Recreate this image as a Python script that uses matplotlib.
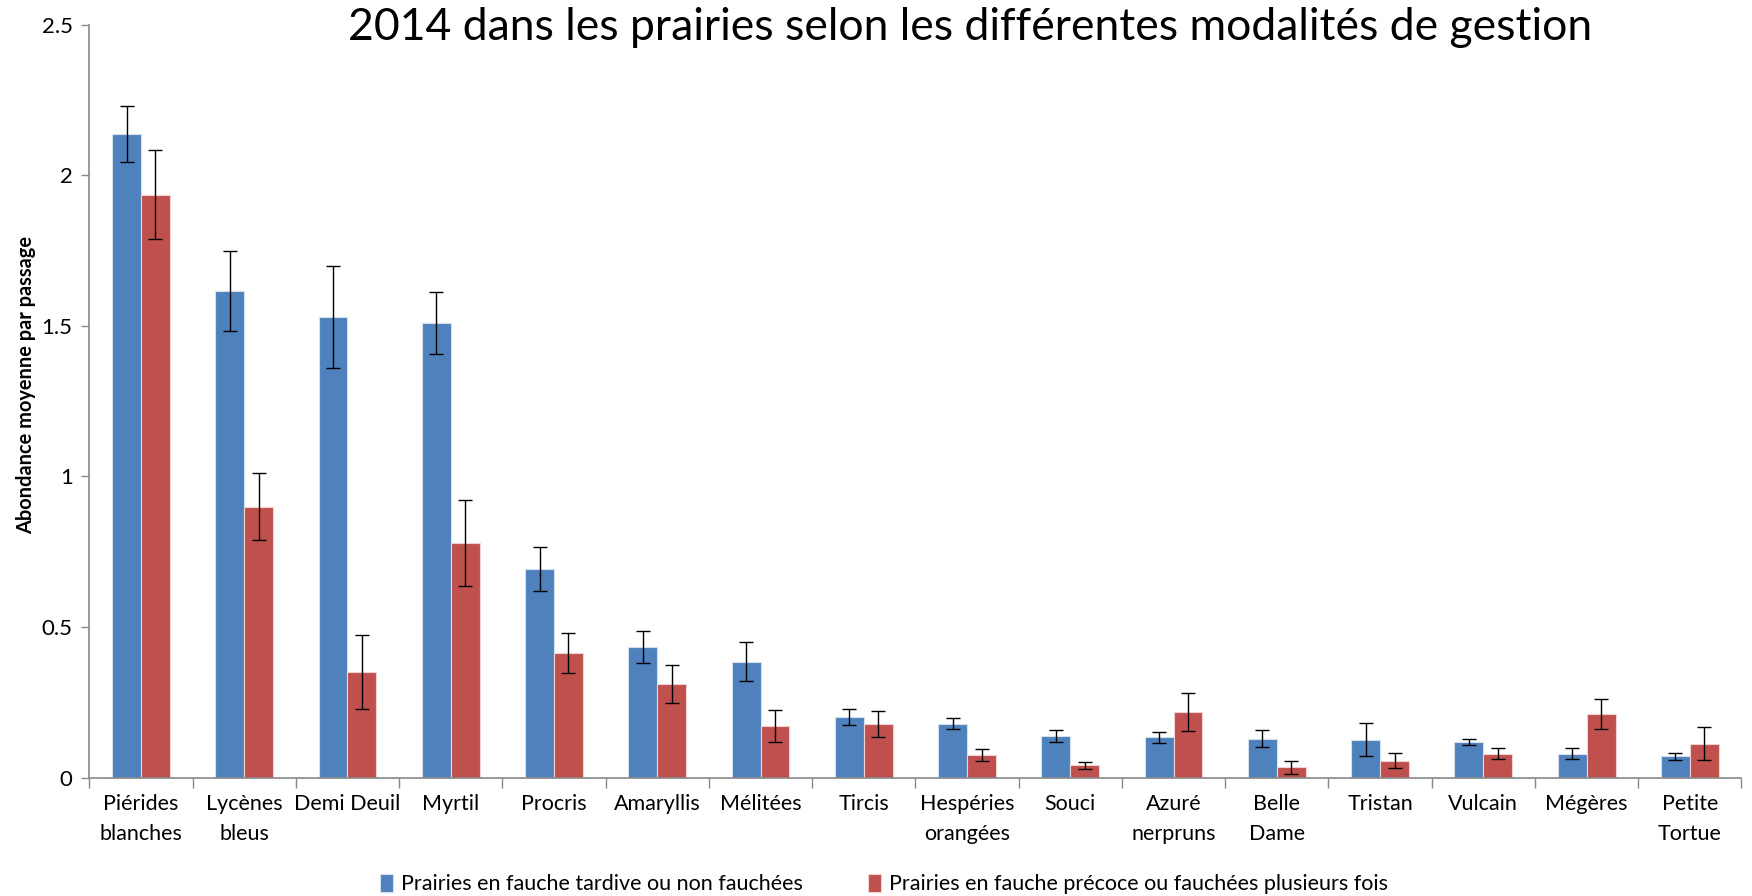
import numpy as np
import matplotlib
matplotlib.use('Agg')
from matplotlib import pyplot as plt
from matplotlib.ticker import FixedLocator

plt.rcParams['font.family'] = ['Lato', 'DejaVu Sans']

species = ['Piérides\nblanches', 'Lycènes\nbleus', 'Demi Deuil', 'Myrtil', 'Procris',
           'Amaryllis', 'Mélitées', 'Tircis', 'Hespéries\norangées', 'Souci',
           'Azuré\nnerpruns', 'Belle\nDame', 'Tristan', 'Vulcain', 'Mégères',
           'Petite\nTortue']

# mean abundance per visit
tardive = [2.138, 1.616, 1.530, 1.508, 0.694, 0.434, 0.385, 0.201, 0.179, 0.138,
           0.134, 0.130, 0.126, 0.119, 0.080, 0.071]
precoce = [1.936, 0.900, 0.352, 0.779, 0.415, 0.312, 0.171, 0.179, 0.075, 0.041,
           0.219, 0.034, 0.057, 0.080, 0.212, 0.113]
# error bars
tardive_err = [0.093, 0.133, 0.170, 0.103, 0.073, 0.053, 0.065, 0.026, 0.018, 0.020,
               0.018, 0.028, 0.055, 0.011, 0.018, 0.012]
precoce_err = [0.148, 0.110, 0.123, 0.144, 0.067, 0.063, 0.053, 0.043, 0.020, 0.012,
               0.063, 0.020, 0.026, 0.018, 0.050, 0.055]

label_tardive = 'Prairies en fauche tardive ou non fauchées'
label_precoce = 'Prairies en fauche précoce ou fauchées plusieurs fois'
title = '2014 dans les prairies selon les différentes modalités de gestion'

blue = '#4F81BD'
red = '#C0504D'
w = 0.28

fig = plt.figure(figsize=(17.52, 8.96), dpi=100)
ax = fig.add_axes([0.051, 0.132, 0.943, 0.8405])

x = np.arange(len(species))
ax.bar(x - w/2, tardive, w, color=blue, edgecolor='#d5e0ef', linewidth=0.8,
       yerr=tardive_err, capsize=5, error_kw=dict(ecolor='black', elinewidth=1, capthick=1),
       label=label_tardive)
ax.bar(x + w/2, precoce, w, color=red, edgecolor='#efd3d2', linewidth=0.8,
       yerr=precoce_err, capsize=5, error_kw=dict(ecolor='black', elinewidth=1, capthick=1),
       label=label_precoce)

ax.set_xlim(-0.5, len(species) - 0.5)
ax.set_ylim(0, 2.5)
ax.set_yticks([0, 0.5, 1, 1.5, 2, 2.5])
ax.set_yticklabels(['0', '0.5', '1', '1.5', '2', '2.5'])
ax.set_xticks(x)
ax.set_xticklabels(species, linespacing=1.6)
ax.xaxis.set_minor_locator(FixedLocator(np.arange(-0.5, len(species), 1)))
ax.tick_params(axis='x', which='major', length=0, pad=12, labelsize=15.5)
ax.tick_params(axis='x', which='minor', length=7, color='#888888', width=1)
ax.tick_params(axis='y', length=6, color='#888888', width=1, labelsize=16, pad=6)

for s in ['top', 'right']:
    ax.spines[s].set_visible(False)
for s in ['left', 'bottom']:
    ax.spines[s].set_color('#888888')
    ax.spines[s].set_linewidth(1.2)

ax.set_ylabel('Abondance moyenne par passage', fontsize=14.4, fontweight='bold')
ax.yaxis.set_label_coords(-0.032, 0.522)

fig.text(0.5535, 0.969, title, ha='center', va='center', fontsize=32)

ax.legend(loc='center', bbox_to_anchor=(0.481, -0.141), ncol=2, frameon=False,
          fontsize=15.5, handlelength=0.6, handleheight=0.9, handletextpad=0.4,
          columnspacing=3.0)

fig.savefig('out.png', dpi=100)
